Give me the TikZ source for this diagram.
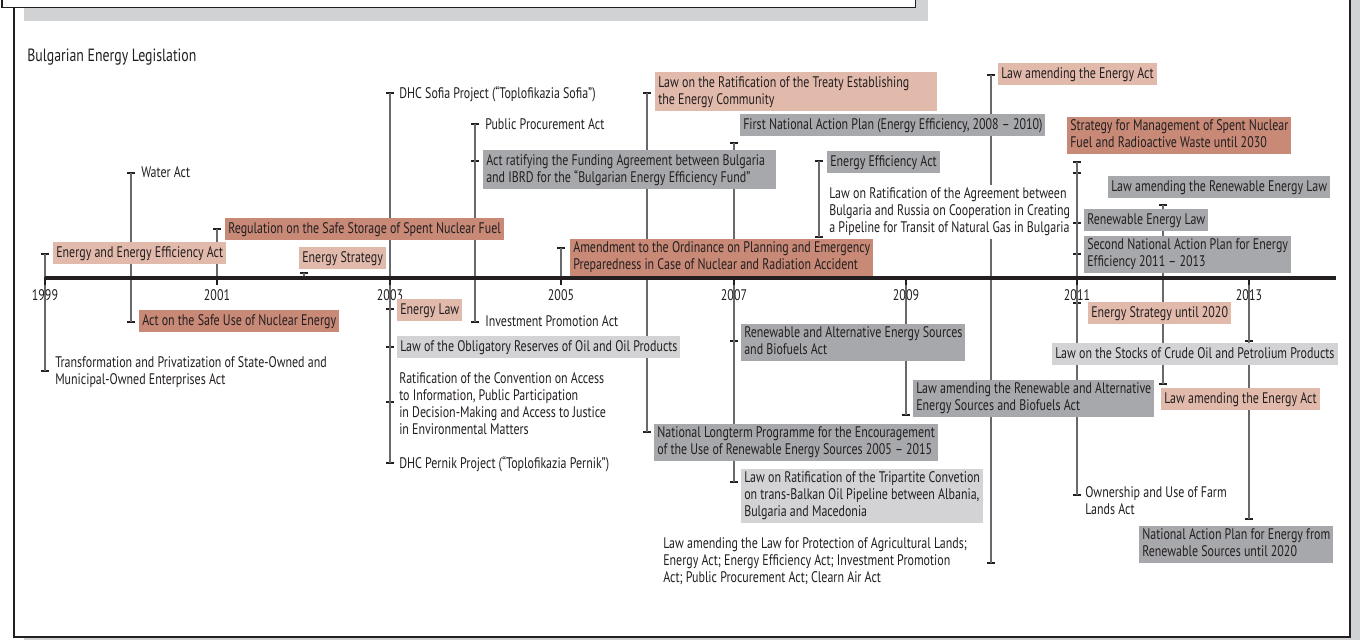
\documentclass[tikz,border=0pt]{standalone}
\usepackage{fontspec}
\setmainfont{PT Sans}[FakeStretch=0.78]

\definecolor{salmonfill}{RGB}{226,186,172}
\definecolor{brickfill}{RGB}{200,137,119}
\definecolor{steelfill}{RGB}{167,168,172}
\definecolor{mistfill}{RGB}{211,211,213}
\definecolor{inkc}{RGB}{35,31,32}
\definecolor{stemc}{RGB}{105,105,108}
\definecolor{shadowc}{RGB}{209,210,212}

\newcommand\entrytop{\rule{0pt}{9.7pt}}
\newcommand\entrybot{\rule[-3.05pt]{0pt}{0pt}}

\begin{document}
\begin{tikzpicture}[x=0.75pt,y=-0.75pt]
\tikzset{entry/.style = {anchor=north west,align=flush left,inner xsep=2.25pt,inner ysep=1.9pt,text=inkc,
  font=\fontsize{11.5}{12.75}\selectfont,execute at begin node=\entrytop,execute at end node=\entrybot}}
\tikzset{salmon/.style = {entry,fill=salmonfill}}
\tikzset{brick/.style = {entry,fill=brickfill}}
\tikzset{steel/.style = {entry,fill=steelfill}}
\tikzset{mist/.style = {entry,fill=mistfill}}
\tikzset{bare/.style = {entry,fill=white}}
\tikzset{tee/.style = {shape=rectangle,fill=inkc,inner sep=0pt,minimum width=6pt,minimum height=1.5pt}}
\tikzset{stem/.style = {draw=stemc,line width=1.1pt}}
\tikzset{year/.style = {text=inkc,inner sep=0pt,font=\fontsize{11.5}{12.75}\selectfont}}
\tikzset{yearmark/.style = {shape=rectangle,fill=inkc,inner sep=0pt,minimum width=1.5pt,minimum height=6pt}}

\useasboundingbox (0,0) rectangle (1360,639);

% frame and the box above it
\fill[shadowc] (24,-20) rectangle (1360,650);
\draw[inkc,line width=1.5pt,fill=white] (14,-20) rectangle (1350,636.5);
\fill[shadowc] (24,-20) rectangle (928,20.5);
\draw[inkc,line width=1.3pt,fill=white] (2,-20) rectangle (915.5,7.5);

\node[anchor=west,inner sep=0pt,text=inkc,font=\fontsize{13.3}{15}\selectfont] (title) at (27,57) {Bulgarian Energy Legislation};

% axis
\coordinate (y1999) at (45,278);
\coordinate (y2001) at (217,278);
\coordinate (y2002) at (304,278);
\coordinate (y2003) at (390,278);
\coordinate (y2005) at (561,278);
\coordinate (y2007) at (734,278);
\coordinate (y2009) at (906,278);
\coordinate (y2011) at (1077,278);
\coordinate (y2013) at (1249,278);
\coordinate (axisend) at (1336,278);

% tees
\node[tee] (t1) at (45,254) {};
\node[tee] (t2) at (131,173) {};
\node[tee] (t3) at (217,229) {};
\node[tee] (t4) at (304,273) {};
\node[tee] (t5) at (390,93) {};
\node[tee] (t6) at (475,124) {};
\node[tee] (t7) at (475,161) {};
\node[tee] (t8) at (561,248) {};
\node[tee] (t9) at (647,93) {};
\node[tee] (t10) at (734,143) {};
\node[tee] (t11) at (819,161) {};
\node[tee] (t12) at (819,237) {};
\node[tee] (t13) at (991,75) {};
\node[tee] (t14) at (1077,162) {};
\node[tee] (t14b) at (1077,173) {};
\node[tee] (t15) at (1163,205) {};
\node[tee] (t16) at (1077,223) {};
\node[tee] (t17) at (1077,254) {};
\node[tee] (t18) at (45,371) {};
\node[tee] (t19) at (131,322) {};
\node[tee] (t20) at (390,309) {};
\node[tee] (t21) at (390,347) {};
\node[tee] (t22) at (390,402) {};
\node[tee] (t23) at (390,463) {};
\node[tee] (t24) at (475,322) {};
\node[tee] (t25) at (647,432) {};
\node[tee] (t26) at (734,341) {};
\node[tee] (t27) at (734,482) {};
\node[tee] (t28) at (991,563) {};
\node[tee] (t29) at (906,415) {};
\node[tee] (t30) at (1077,303) {};
\node[tee] (t31) at (1077,495) {};
\node[tee] (t32) at (1249,341) {};
\node[tee] (t33) at (1163,384) {};
\node[tee] (t34) at (1249,519) {};

% stems
\draw[stem] (t1.center) -- (t18.center);
\draw[stem] (t2.center) -- (t19.center);
\draw[stem] (t3.center) -- (y2001);
\draw[stem] (t4.center) -- (y2002);
\draw[stem] (t5.center) -- (t23.center);
\draw[stem] (t6.center) -- (t24.center);
\draw[stem] (t8.center) -- (y2005);
\draw[stem] (t9.center) -- (t25.center);
\draw[stem] (t10.center) -- (t27.center);
\draw[stem] (t11.center) -- (t12.center);
\draw[stem] (y2009) -- (t29.center);
\draw[stem] (t13.center) -- (t28.center);
\draw[stem] (t14.center) -- (t31.center);
\draw[stem] (t15.center) -- (t33.center);
\draw[stem] (y2013) -- (t34.center);

\draw[inkc,line width=3pt] (y1999) -- (axisend);

\node[yearmark] (m1999) at (45,281) {};
\node[yearmark] (m2001) at (217,281) {};
\node[yearmark] (m2003) at (390,281) {};
\node[yearmark] (m2005) at (561,281) {};
\node[yearmark] (m2007) at (734,281) {};
\node[yearmark] (m2009) at (906,281) {};
\node[yearmark] (m2011) at (1077,281) {};
\node[yearmark] (m2013) at (1249,281) {};

\node[year] (l1999) at (45,295) {1999};
\node[year] (l2001) at (217,295) {2001};
\node[year] (l2003) at (390,295) {2003};
\node[year] (l2005) at (561,295) {2005};
\node[year] (l2007) at (734,295) {2007};
\node[year] (l2009) at (906,295) {2009};
\node[year] (l2011) at (1077,295) {2011};
\node[year] (l2013) at (1249,295) {2013};

% above the axis
\node[salmon] (n1) at (53,242) {Energy and Energy Efficiency Act};
\node[bare] (n2) at (138,162) {Water Act};
\node[brick] (n3) at (225,218) {Regulation on the Safe Storage of Spent Nuclear Fuel};
\node[salmon] (n4) at (299,247) {Energy Strategy};
\node[bare] (n5) at (396,83) {DHC Sofia Project (“Toplofikazia Sofia”)};
\node[bare] (n6) at (482,114) {Public Procurement Act};
\node[steel,text width=215pt] (n7) at (483,150) {Act ratifying the Funding Agreement between Bulgaria\\and IBRD for the “Bulgarian Energy Efficiency Fund”};
\node[brick] (n8) at (570,239) {Amendment to the Ordinance on Planning and Emergency\\Preparedness in Case of Nuclear and Radiation Accident};
\node[salmon,text width=207pt] (n9) at (655,72) {Law on the Ratification of the Treaty Establishing\\the Energy Community};
\node[steel] (n10) at (740,114) {First National Action Plan (Energy Efficiency, 2008 – 2010)};
\node[steel] (n11) at (827,151) {Energy Efficiency Act};
\node[bare] (n12) at (826,185) {Law on Ratification of the Agreement between\\Bulgaria and Russia on Cooperation in Creating\\a Pipeline for Transit of Natural Gas in Bulgaria};
\node[salmon] (n13) at (998,63) {Law amending the Energy Act};
\node[brick] (n14) at (1067,117) {Strategy for Management of Spent Nuclear\\Fuel and Radioactive Waste until 2030};
\node[steel] (n15) at (1108,176) {Law amending the Renewable Energy Law};
\node[steel] (n16) at (1084,209) {Renewable Energy Law};
\node[steel] (n17) at (1084,236) {Second National Action Plan for Energy\\Efficiency 2011 – 2013};

% below the axis
\node[bare] (n18) at (52,354) {Transformation and Privatization of State-Owned and\\Municipal-Owned Enterprises Act};
\node[brick] (n19) at (139,310) {Act on the Safe Use of Nuclear Energy};
\node[salmon] (n20) at (397,299) {Energy Law};
\node[mist] (n21) at (397,336) {Law of the Obligatory Reserves of Oil and Oil Products};
\node[bare] (n22) at (396,370) {Ratification of the Convention on Access\\to Information, Public Participation\\in Decision-Making and Access to Justice\\in Environmental Matters};
\node[bare] (n23) at (396,453) {DHC Pernik Project (“Toplofikazia Pernik”)};
\node[bare] (n24) at (482,311) {Investment Promotion Act};
\node[steel] (n25) at (654,424) {National Longterm Programme for the Encouragement\\of the Use of Renewable Energy Sources 2005 – 2015};
\node[steel] (n26) at (741,324) {Renewable and Alternative Energy Sources\\and Biofuels Act};
\node[mist] (n27) at (741,469) {Law on Ratification of the Tripartite Convetion\\on trans-Balkan Oil Pipeline between Albania,\\Bulgaria and Macedonia};
\node[bare] (n28) at (660,535) {Law amending the Law for Protection of Agricultural Lands;\\Energy Act; Energy Efficiency Act; Investment Promotion\\Act; Public Procurement Act; Clearn Air Act};
\node[steel] (n29) at (913,380) {Law amending the Renewable and Alternative\\Energy Sources and Biofuels Act};
\node[salmon] (n30) at (1088,302) {Energy Strategy until 2020};
\node[bare] (n31) at (1082,484) {Ownership and Use of Farm\\Lands Act};
\node[mist] (n32) at (1052,343) {Law on the Stocks of Crude Oil and Petrolium Products};
\node[salmon] (n33) at (1161,388) {Law amending the Energy Act};
\node[steel] (n34) at (1139,526) {National Action Plan for Energy from\\Renewable Sources until 2020};
\end{tikzpicture}
\end{document}
